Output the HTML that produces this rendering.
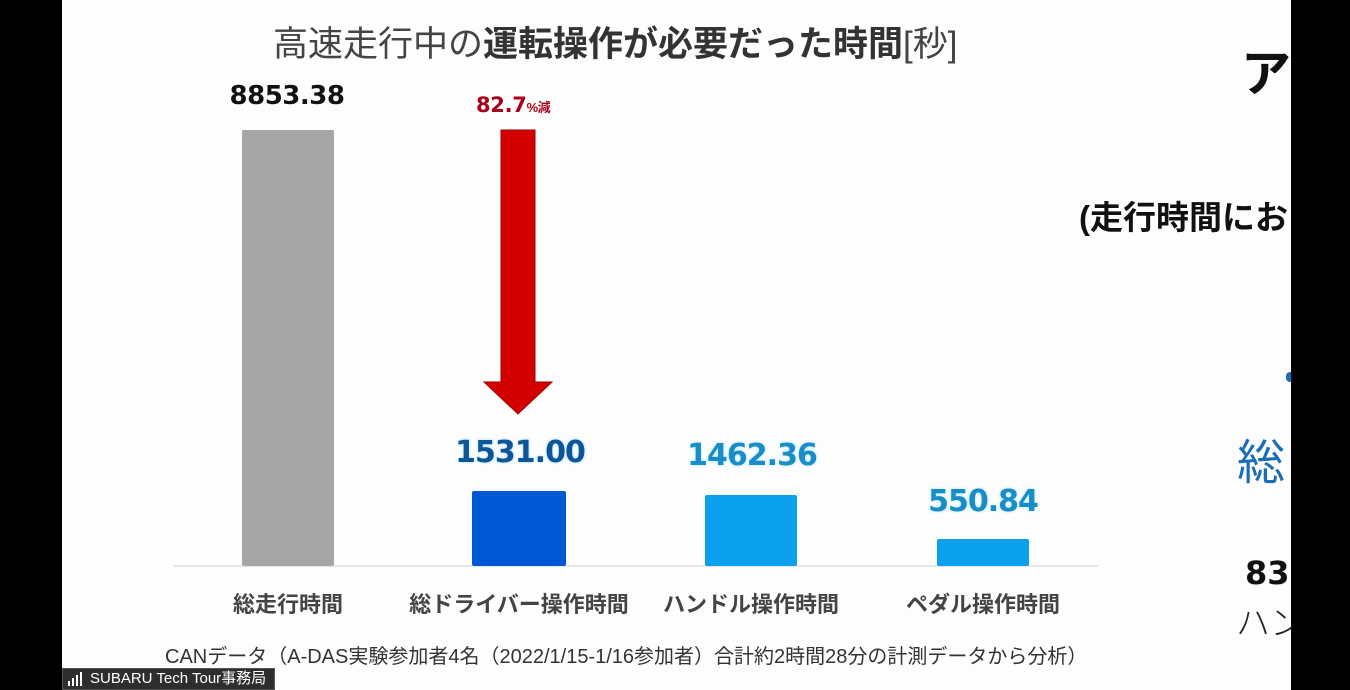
<!DOCTYPE html>
<html>
<head>
<meta charset="utf-8">
<style>
  html, body { margin:0; padding:0; }
  body { width:1350px; height:690px; background:#000; position:relative; overflow:hidden;
         font-family:"Liberation Sans","Noto Sans CJK JP",sans-serif; }
  .panel { position:absolute; left:62px; top:0; width:1229px; height:690px; background:#fdfdfd; }
  .abs { position:absolute; white-space:nowrap; }
  .title { left:273px; top:27px; font-size:35px; line-height:35px; color:#444;
           font-family:"Liberation Sans","Noto Sans CJK JP",sans-serif; }
  .title b { color:#333; font-weight:bold; }
  .num { font-family:"DejaVu Sans",sans-serif; font-weight:bold; text-align:center; line-height:1; }
  .cat { font-family:"Liberation Sans","Noto Sans CJK JP",sans-serif; font-weight:bold; font-size:22px;
         line-height:22px; color:#444; text-align:center; width:260px; top:594px; }
  .bar { position:absolute; border-radius:2px; }
  .clip { position:absolute; left:1060px; top:0; width:231px; height:690px; overflow:hidden; }
</style>
</head>
<body>
<div class="panel"></div>

<div class="abs title">高速走行中の<b>運転操作が必要だった時間</b>[秒]</div>

<!-- baseline -->
<div class="abs" style="left:173px;top:565px;width:925px;height:2px;background:#e6e6e6;"></div>

<!-- bars -->
<div class="bar" style="left:242px;top:130px;width:92px;height:436px;background:#a6a6a6;"></div>
<div class="bar" style="left:472px;top:491px;width:94px;height:75px;background:#0058d4;"></div>
<div class="bar" style="left:705px;top:495px;width:92px;height:71px;background:#0aa0ec;"></div>
<div class="bar" style="left:937px;top:539px;width:92px;height:27px;background:#0aa0ec;"></div>

<!-- arrow -->
<svg class="abs" style="left:0;top:0;" width="1290" height="690">
  <polygon points="501,130 535,130 535,382 552,382 518,414 484,382 501,382" fill="#d40000" stroke="#9a0000" stroke-width="1"/>
</svg>

<!-- value labels -->
<div class="abs num" style="left:187px;width:200px;top:83px;font-size:26px;letter-spacing:-0.5px;color:#111;">8853.38</div>
<div class="abs num" style="left:420px;width:200px;top:438px;font-size:30px;letter-spacing:-1px;color:#0d5596;text-shadow:0 0 3px #9fdcff;">1531.00</div>
<div class="abs num" style="left:652px;width:200px;top:441px;font-size:30px;letter-spacing:-1px;color:#1a8dc6;text-shadow:0 0 3px #a8e6ff;">1462.36</div>
<div class="abs num" style="left:883px;width:200px;top:487px;font-size:30px;letter-spacing:-1px;color:#1a8dc6;text-shadow:0 0 3px #a8e6ff;">550.84</div>
<div class="abs" style="left:476px;top:95px;color:#a8001a;"><span style="font-family:'DejaVu Sans',sans-serif;font-weight:bold;font-size:21px;line-height:21px;letter-spacing:-0.3px;">82.7</span><span style="font-family:'Liberation Sans','Noto Sans CJK JP',sans-serif;font-weight:bold;font-size:13px;letter-spacing:-0.5px;">%減</span></div>

<!-- category labels -->
<div class="abs cat" style="left:158px;">総走行時間</div>
<div class="abs cat" style="left:389px;">総ドライバー操作時間</div>
<div class="abs cat" style="left:621px;">ハンドル操作時間</div>
<div class="abs cat" style="left:853px;">ペダル操作時間</div>

<!-- footer -->
<div class="abs" style="left:165px;top:647px;font-size:20px;line-height:20px;color:#333;font-family:'Liberation Sans','Noto Sans CJK JP',sans-serif;">CANデータ（A-DAS実験参加者4名（2022/1/15-1/16参加者）合計約2時間28分の計測データから分析）</div>

<!-- right side partial slide (clipped) -->
<div class="clip">
  <div class="abs" style="left:181px;top:49px;font-size:50px;line-height:50px;font-weight:bold;color:#111;font-family:'Liberation Sans','Noto Sans CJK JP',sans-serif;">アイ</div>
  <div class="abs" style="left:19px;top:201px;font-size:33px;line-height:33px;font-weight:bold;color:#111;font-family:'Liberation Sans','Noto Sans CJK JP',sans-serif;">(走行時間における</div>
  <div class="abs" style="left:226px;top:372px;width:8px;height:10px;border-radius:4px;background:#1a6db8;"></div>
  <div class="abs" style="left:177px;top:440px;font-size:48px;line-height:48px;color:#1a6db8;font-family:'Liberation Sans','Noto Sans CJK JP',sans-serif;">総ド</div>
  <div class="abs" style="left:185px;top:557px;font-size:32px;line-height:32px;font-weight:bold;color:#111;font-family:'DejaVu Sans',sans-serif;">83.3</div>
  <div class="abs" style="left:176px;top:607px;font-size:34px;line-height:34px;font-weight:300;color:#222;font-family:'Liberation Sans','Noto Sans CJK JP',sans-serif;">ハンド</div>
</div>

<!-- right black border -->
<div class="abs" style="left:1291px;top:0;width:59px;height:690px;background:#000;"></div>

<!-- badge -->
<div class="abs" style="left:62px;top:668px;width:213px;height:22px;background:#2e2e2e;border:1px solid #555;box-sizing:border-box;overflow:hidden;">
  <div class="abs" style="left:5px;top:12px;width:2px;height:5px;background:#fff;"></div>
  <div class="abs" style="left:9px;top:9px;width:2px;height:8px;background:#fff;"></div>
  <div class="abs" style="left:13px;top:6px;width:2px;height:11px;background:#fff;"></div>
  <div class="abs" style="left:17px;top:3px;width:2px;height:14px;background:#fff;"></div>
  <div class="abs" style="left:27px;top:2px;font-size:15px;line-height:16px;color:#fff;font-family:'Liberation Sans','Noto Sans CJK JP',sans-serif;">SUBARU Tech Tour事務局</div>
</div>
</body>
</html>
